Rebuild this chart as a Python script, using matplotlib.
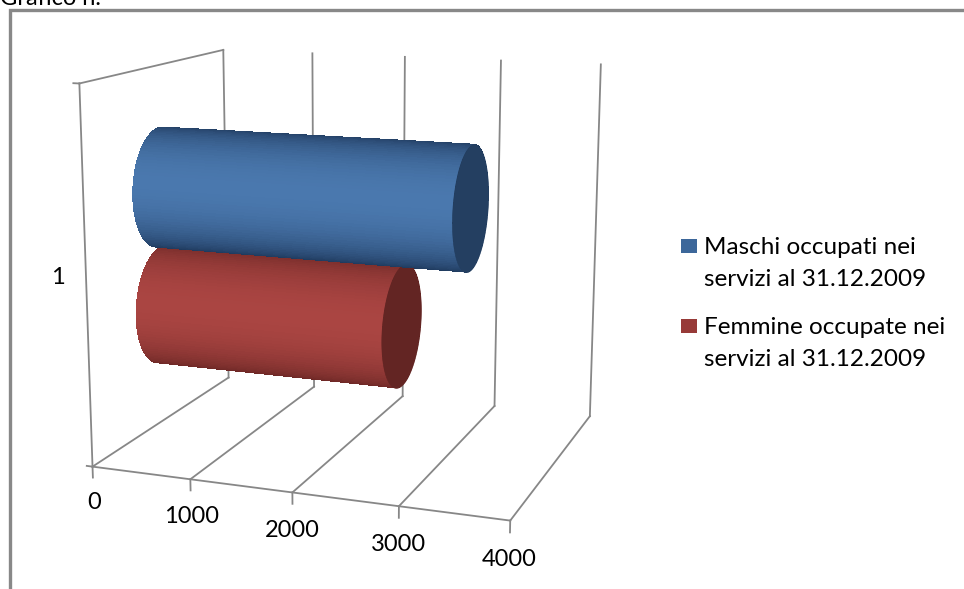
import matplotlib
matplotlib.use("Agg")
import matplotlib.pyplot as plt
import matplotlib.colors as mcolors
import numpy as np
from matplotlib.patches import Rectangle
from mpl_toolkits.mplot3d.art3d import Poly3DCollection

plt.rcParams['font.family'] = ['Lato', 'DejaVu Sans']

# data
series = ["Maschi occupati nei\nservizi al 31.12.2009",
          "Femmine occupate nei\nservizi al 31.12.2009"]
values = [3160, 2500]
category = ["1"]
ticks = [0, 1000, 2000, 3000, 4000]
body_light = ["#4a78ae", "#aa4542"]
body_dark = ["#1f3a5e", "#6a2624"]
cap_col = ["#243f61", "#632523"]
legend_col = ["#3c679a", "#973a38"]
grid_col = "#878787"

W, H = 964, 589
fig = plt.figure(figsize=(W / 100, H / 100), dpi=100)

# outer frame of the chart area (runs off the right and bottom edges)
fig.patches.append(Rectangle((10 / W, -0.05), 1.0, 1 - 10 / H + 0.05,
                             transform=fig.transFigure, fill=False,
                             edgecolor="#888888", lw=2.4))
fig.text(0.0, 1 - 5 / H, "Grafico n.", fontsize=17, va="baseline", ha="left")

ax = fig.add_axes([-0.003, 0.043, 0.72, 1.0], projection="3d")
ax.set_proj_type("persp", focal_length=0.55)
ax.view_init(elev=12.7, azim=-69.9)
ax.set_box_aspect((450, 348, 401), zoom=1.075)
ax.set_xlim(0, 4000)
ax.set_ylim(0, 1)
ax.set_zlim(0, 1)
ax.set_axis_off()
ax.computed_zorder = False

lk = dict(color=grid_col, lw=1.3, zorder=1)
# left wall
ax.plot([0, 0], [0, 0], [0, 1], **lk)
ax.plot([0, 0], [0, 1], [1, 1], **lk)
ax.plot([0, 0], [1, 1], [0, 1], **lk)
# value gridlines: floor + back wall
for t in ticks:
    ax.plot([t, t], [0, 1], [0, 0], **lk)
    if t > 0:
        ax.plot([t, t], [1, 1], [0, 1], **lk)
    ax.plot([t, t], [0, 0], [0, -0.03], **lk)
    ax.text(t, 0, -0.1, str(t), fontsize=17, ha="center", va="center")
ax.plot([0, ticks[-1]], [0, 0], [0, 0], **lk)
# category ticks + label
ax.plot([0, -60], [0, 0], [0, 0], **lk)
ax.plot([0, -60], [0, 0], [1, 1], **lk)
ax.text(-290, 0, 0.5, category[0], fontsize=17, ha="center", va="center")

# cylinders
rz = 0.165
ry = 0.19
zc = [0.5 + rz, 0.5 - rz]
th = np.linspace(0, 2 * np.pi, 121)
view = np.array([-0.9, 0.25])
view = view / np.linalg.norm(view)
order = [1, 0]  # red first, blue drawn over it
for k, i in enumerate(order):
    xs = np.linspace(0, values[i], 2)
    T, Xg = np.meshgrid(th, xs)
    Y = 0.5 + ry * np.cos(T)
    Z = zc[i] + rz * np.sin(T)
    tm = 0.5 * (th[:-1] + th[1:])
    f = np.clip(np.cos(tm) * view[0] + np.sin(tm) * view[1], 0, 1) ** 1.3
    c0 = np.array(mcolors.to_rgb(body_dark[i]))
    c1 = np.array(mcolors.to_rgb(body_light[i]))
    cols = c0[None, :] + (c1 - c0)[None, :] * f[:, None]
    fc = np.tile(cols[None, :, :], (len(xs) - 1, 1, 1))
    surf = ax.plot_surface(Xg, Y, Z, facecolors=fc, shade=False,
                           rstride=1, cstride=1, lw=0, antialiased=False,
                           zorder=3 + 2 * k)
    cap = [list(zip(np.full_like(th, values[i]), 0.5 + ry * np.cos(th),
                    zc[i] + rz * np.sin(th)))]
    pc = Poly3DCollection(cap, facecolor=cap_col[i], edgecolor=cap_col[i],
                          lw=0.5, zorder=4 + 2 * k)
    ax.add_collection3d(pc)

# legend, drawn by hand so the square sits on the first text line
leg_x, leg_y, leg_step, line_step = 681, 246, 80, 31
for i, lab in enumerate(series):
    y0 = leg_y + i * leg_step
    fig.patches.append(Rectangle((leg_x / W, 1 - (y0 + 7) / H), 16 / W, 14 / H,
                                 transform=fig.transFigure,
                                 facecolor=legend_col[i], edgecolor="none"))
    for j, line in enumerate(lab.split("\n")):
        fig.text((leg_x + 23) / W, 1 - (y0 + j * line_step) / H, line,
                 fontsize=17.5, va="center_baseline", ha="left")

fig.savefig("out.png", dpi=100)
